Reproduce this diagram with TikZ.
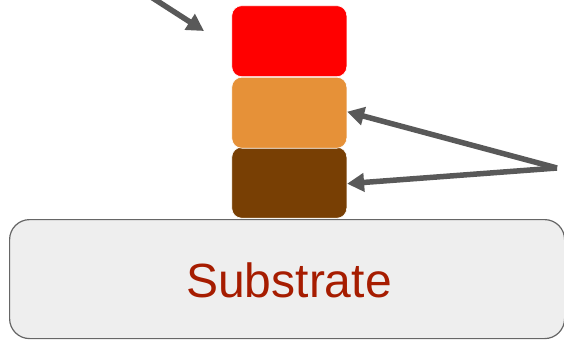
\documentclass[tikz,border=0pt]{standalone}
\usepackage{fontspec}
\setmainfont{Liberation Sans}
\usetikzlibrary{arrows.meta}
\definecolor{layerred}{HTML}{FF0000}
\definecolor{layerorange}{HTML}{E69138}
\definecolor{layerbrown}{HTML}{783F04}
\definecolor{subfill}{HTML}{EEEEEE}
\definecolor{subline}{HTML}{666666}
\definecolor{subtext}{HTML}{A61C00}
\definecolor{pointer}{HTML}{595959}
\tikzset{
  layer/.style={rounded corners=10pt, minimum width=115pt, minimum height=71pt,
    inner sep=0pt, draw=white, line width=0.6pt},
  pointerarrow/.style={draw=pointer, line width=5.5pt,
    -{Triangle[length=17pt,width=18pt]}},
}
\begin{document}
\begin{tikzpicture}[x=1pt,y=-1pt]
  \useasboundingbox (0,0) rectangle (564,340);
  % substrate base
  \node[draw=subline, fill=subfill, line width=1.2pt, rounded corners=20pt,
        minimum width=555pt, minimum height=119pt, inner sep=0pt,
        anchor=north west] (sub) at (9,219) {};
  \node[text=subtext, font=\fontsize{48}{48}\selectfont] (subtxt) at (289,280) {Substrate};
  % stacked layers
  \node[layer, fill=layerbrown, anchor=south west] (brown) at (231.5,218.5) {};
  \node[layer, fill=layerorange, anchor=south west] (orange) at (231.5,148.5) {};
  \node[layer, fill=layerred, anchor=south west] (red) at (231.5,77) {};
  % pointer arrows
  \coordinate (tlstart) at (148,-5);
  \coordinate (tltip) at (204,31);
  \coordinate (rstart) at (557,168);
  \draw[pointerarrow] (tlstart) -- (tltip);
  \draw[pointerarrow] (rstart) -- ([yshift=1pt]orange.east);
  \draw[pointerarrow] (rstart) -- ([yshift=-1pt]brown.east);
\end{tikzpicture}
\end{document}
